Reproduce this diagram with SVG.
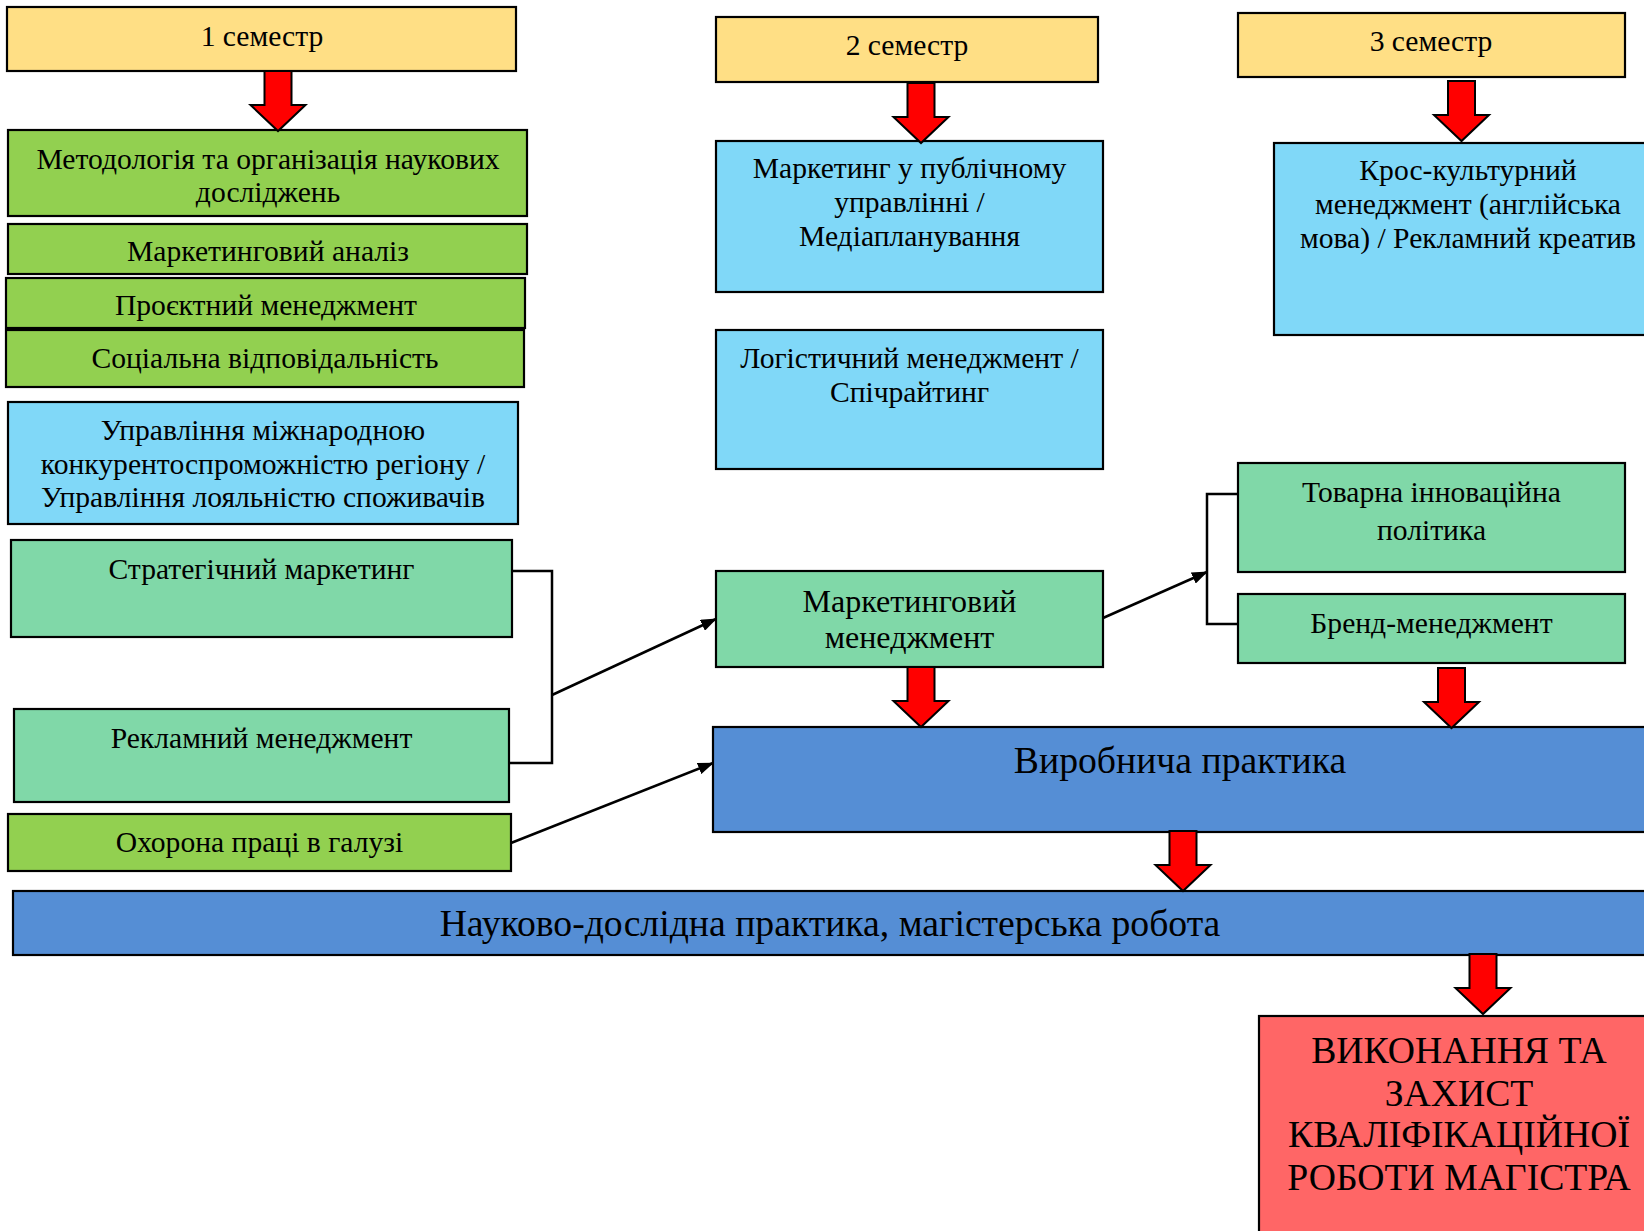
<svg xmlns="http://www.w3.org/2000/svg" xmlns:xlink="http://www.w3.org/1999/xlink" width="1644" height="1231" viewBox="0 0 1644 1231">
<style>
  .box { stroke: #000; stroke-width: 2.2; }
  .yel { fill: #FFDF85; }
  .grn { fill: #92D050; }
  .lbl { fill: #80D8F8; }
  .mnt { fill: #80D8A8; }
  .blu { fill: #558ED5; }
  .red { fill: #FF6666; }
  text { font-family: "Liberation Serif", "Times New Roman", serif; font-size: 29.6px; fill: #000; text-anchor: middle; }
  .mm { font-size: 32.1px; }
  .big { font-size: 37.7px; }
  .conn { fill: none; stroke: #000; stroke-width: 2.5; }
  .bar { fill: #FF0000; stroke: #000; stroke-width: 2; stroke-linejoin: miter; }
</style>
<defs>
  <path id="ra" d="M-13.5,0 H13.5 V34 H27.5 L0,60 L-27.5,34 H-13.5 Z"/>
  <marker id="ah" viewBox="0 0 16 12" refX="15" refY="6" markerWidth="16" markerHeight="12" markerUnits="userSpaceOnUse" orient="auto">
    <path d="M0,0 L16,6 L0,12 Z" fill="#000"/>
  </marker>
</defs>
<rect width="1644" height="1231" fill="#fff"/>

<g id="sem1"><rect class="box yel" x="7" y="7" width="509" height="64"/><text x="262" y="46">1 семестр</text></g>
<g id="sem2"><rect class="box yel" x="716" y="17" width="382" height="65"/><text x="907" y="55">2 семестр</text></g>
<g id="sem3"><rect class="box yel" x="1238" y="13" width="387" height="64"/><text x="1431" y="51">3 семестр</text></g>

<g id="metod"><rect class="box grn" x="8" y="130" width="519" height="86"/><text x="268" y="169">Методологія та організація наукових</text><text x="268" y="202">досліджень</text></g>
<g id="markan"><rect class="box grn" x="8" y="224" width="519" height="50"/><text x="268" y="261">Маркетинговий аналіз</text></g>
<g id="proekt"><rect class="box grn" x="6" y="278" width="519" height="50"/><text x="266" y="315">Проєктний менеджмент</text></g>
<g id="social"><rect class="box grn" x="6" y="330" width="518" height="57"/><text x="265" y="368">Соціальна відповідальність</text></g>
<g id="upravl"><rect class="box lbl" x="8" y="402" width="510" height="122"/><text x="263" y="440">Управління міжнародною</text><text x="263" y="474">конкурентоспроможністю регіону /</text><text x="263" y="507">Управління лояльністю споживачів</text></g>
<g id="strat"><rect class="box mnt" x="11" y="540" width="501" height="97"/><text x="261.5" y="579">Стратегічний маркетинг</text></g>
<g id="reklam"><rect class="box mnt" x="14" y="709" width="495" height="93"/><text x="261.5" y="748">Рекламний менеджмент</text></g>
<g id="ohorona"><rect class="box grn" x="8" y="814" width="503" height="57"/><text x="259.5" y="852">Охорона праці в галузі</text></g>

<g id="markpubl"><rect class="box lbl" x="716" y="141" width="387" height="151"/><text x="909.5" y="178">Маркетинг у публічному</text><text x="909.5" y="212">управлінні /</text><text x="909.5" y="246">Медіапланування</text></g>
<g id="logist"><rect class="box lbl" x="716" y="330" width="387" height="139"/><text x="909.5" y="368">Логістичний менеджмент /</text><text x="909.5" y="402">Спічрайтинг</text></g>
<g id="kros"><rect class="box lbl" x="1274" y="143" width="390" height="192"/><text x="1468" y="180">Крос-культурний</text><text x="1468" y="214">менеджмент (англійська</text><text x="1468" y="248">мова) / Рекламний креатив</text></g>

<g id="markmen"><rect class="box mnt" x="716" y="571" width="387" height="96"/><text class="mm" x="909.5" y="612">Маркетинговий</text><text class="mm" x="909.5" y="648">менеджмент</text></g>
<g id="tovarna"><rect class="box mnt" x="1238" y="463" width="387" height="109"/><text x="1431.5" y="502">Товарна інноваційна</text><text x="1431.5" y="540">політика</text></g>
<g id="brend"><rect class="box mnt" x="1238" y="594" width="387" height="69"/><text x="1431.5" y="633">Бренд-менеджмент</text></g>

<g id="vyrob"><rect class="box blu" x="713" y="727" width="935" height="105"/><text class="big" x="1180" y="773">Виробнича практика</text></g>
<g id="nauk"><rect class="box blu" x="13" y="891" width="1635" height="64"/><text class="big" x="830" y="936">Науково-дослідна практика, магістерська робота</text></g>
<g id="vykon"><rect class="box red" x="1259" y="1016" width="401" height="230"/><text class="big" x="1459" y="1063">ВИКОНАННЯ ТА</text><text class="big" x="1459" y="1106">ЗАХИСТ</text><text class="big" x="1459" y="1147">КВАЛІФІКАЦІЙНОЇ</text><text class="big" x="1459" y="1190">РОБОТИ МАГІСТРА</text></g>

<g id="connectors">
  <use href="#ra" class="bar" x="278" y="71"/>
  <use href="#ra" class="bar" x="921" y="83"/>
  <use href="#ra" class="bar" x="1461.5" y="81"/>
  <use href="#ra" class="bar" x="921" y="667"/>
  <use href="#ra" class="bar" x="1451.5" y="668"/>
  <use href="#ra" class="bar" x="1183" y="831"/>
  <use href="#ra" class="bar" x="1483" y="954"/>
  <polyline class="conn" points="512,571 552,571 552,763 509,763"/>
  <line class="conn" x1="552" y1="695" x2="716" y2="619" marker-end="url(#ah)"/>
  <line class="conn" x1="511" y1="843" x2="713" y2="763" marker-end="url(#ah)"/>
  <line class="conn" x1="1103" y1="618" x2="1207" y2="572" marker-end="url(#ah)"/>
  <polyline class="conn" points="1238,494 1207,494 1207,624 1238,624"/>
</g>
</svg>
